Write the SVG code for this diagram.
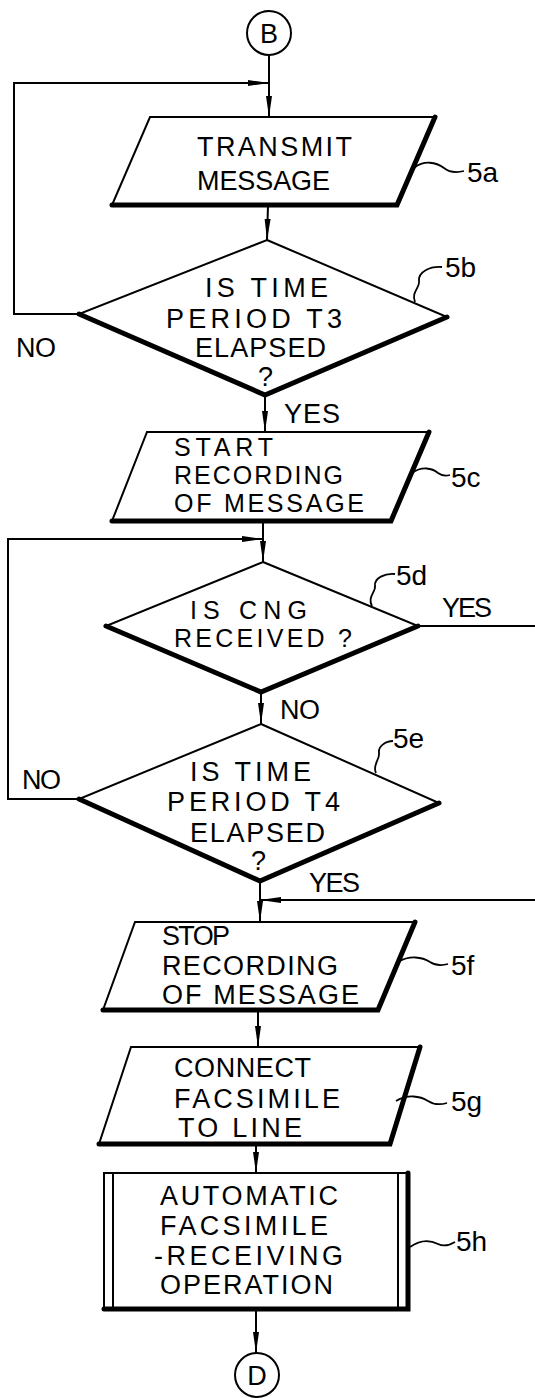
<svg xmlns="http://www.w3.org/2000/svg" width="535" height="1398" viewBox="0 0 535 1398">
<style>
.bg{fill:#fff}
.thick{fill:none;stroke:#000;stroke-width:5;stroke-linecap:round}
.shape{fill:#fff;stroke:#000;stroke-width:2}
.con{fill:none;stroke:#000;stroke-width:2}
.lead{fill:none;stroke:#000;stroke-width:1.8}
.t{font-family:"Liberation Sans",Arial,sans-serif;font-size:27px;fill:#000}
.s{font-size:25px}
.lbl{font-family:"Liberation Sans",Arial,sans-serif;font-size:28px;fill:#000}
</style>
<defs>
<marker id="ah" markerUnits="userSpaceOnUse" markerWidth="22" markerHeight="8" refX="21" refY="4" orient="auto">
<path d="M0,1 L21,4 L0,7 z" fill="#000"/>
</marker>
</defs>
<rect class="bg" x="0" y="0" width="535" height="1398"/>

<g id="connectors">
<path class="con" d="M269,55 L269,117" marker-end="url(#ah)"/>
<path class="con" d="M79,314 L14,314 L14,83 L269,83" marker-end="url(#ah)"/>
<path class="con" d="M268,205 L267,240" marker-end="url(#ah)"/>
<path class="con" d="M265,395 L265,432" marker-end="url(#ah)"/>
<path class="con" d="M263,521 L263,562" marker-end="url(#ah)"/>
<path class="con" d="M79,799 L8,799 L8,539 L263,539" marker-end="url(#ah)"/>
<path class="con" d="M418,626 L535,626"/>
<path class="con" d="M261,692 L261,724" marker-end="url(#ah)"/>
<path class="con" d="M260,881 L260,922" marker-end="url(#ah)"/>
<path class="con" d="M535,900 L260,900" marker-end="url(#ah)"/>
<path class="con" d="M258,1010 L258,1047" marker-end="url(#ah)"/>
<path class="con" d="M256,1144 L256,1173" marker-end="url(#ah)"/>
<path class="con" d="M256,1309 L256,1353" marker-end="url(#ah)"/>
<text class="t" x="16" y="357" textLength="40">NO</text>
<text class="t" x="284" y="423" textLength="56">YES</text>
<text class="t" x="442" y="617" textLength="50">YES</text>
<text class="t" x="280" y="719" textLength="40">NO</text>
<text class="t" x="22" y="789" textLength="39">NO</text>
<text class="t" x="309" y="892" textLength="51">YES</text>
</g>

<g id="B">
<circle class="shape" cx="269" cy="33" r="22"/>
<text class="t" x="269" y="43" text-anchor="middle">B</text>
</g>

<g id="n5a">
<polygon class="shape" points="150,117 435,117 397,205 112,205"/>
<path class="thick" d="M112,205 L397,205 L435,117"/>
<text class="t" x="197" y="156" textLength="155">TRANSMIT</text>
<text class="t" x="197" y="190" textLength="133">MESSAGE</text>
<path class="lead" d="M414,168 C424,160 436,162 444,168 C450,173 456,173 464,171"/>
<text class="lbl" x="467" y="182">5a</text>
</g>

<g id="n5b">
<polygon class="shape" points="267,240 447,317 265,395 79,314"/>
<path class="thick" d="M79,314 L265,395 L447,317"/>
<text class="t" x="205" y="297" textLength="123">IS  TIME</text>
<text class="t" x="166" y="328" textLength="176">PERIOD  T3</text>
<text class="t" x="195" y="357" textLength="131">ELAPSED</text>
<text class="t" x="258" y="386">?</text>
<path class="lead" d="M415,302 C411,292 420,288 419,281 C418,272 430,266 442,267"/>
<text class="lbl" x="445" y="277">5b</text>
</g>

<g id="n5c">
<polygon class="shape" points="147,432 429,432 391,521 112,521"/>
<path class="thick" d="M112,521 L391,521 L429,432"/>
<text class="t s" x="174" y="456" textLength="99">START</text>
<text class="t s" x="174" y="484" textLength="169">RECORDING</text>
<text class="t s" x="174" y="512" textLength="190">OF MESSAGE</text>
<path class="lead" d="M412,473 C422,466 432,468 438,473 C442,476 446,476 450,475"/>
<text class="lbl" x="451" y="487">5c</text>
</g>

<g id="n5d">
<polygon class="shape" points="263,562 418,626 261,692 106,626"/>
<path class="thick" d="M106,626 L261,692 L418,626"/>
<text class="t s" x="190" y="619" textLength="117">IS  CNG</text>
<text class="t s" x="174" y="647" textLength="178">RECEIVED ?</text>
<path class="lead" d="M372,606 C367,597 376,592 375,586 C374,578 385,573 395,574"/>
<text class="lbl" x="396" y="585">5d</text>
</g>

<g id="n5e">
<polygon class="shape" points="261,724 439,803 260,881 79,799"/>
<path class="thick" d="M79,799 L260,881 L439,803"/>
<text class="t" x="190" y="781" textLength="121">IS  TIME</text>
<text class="t" x="167" y="811" textLength="173">PERIOD  T4</text>
<text class="t" x="190" y="842" textLength="135">ELAPSED</text>
<text class="t" x="251" y="870">?</text>
<path class="lead" d="M376,773 C372,765 380,760 379,753 C378,746 386,741 393,741"/>
<text class="lbl" x="393" y="748">5e</text>
</g>

<g id="n5f">
<polygon class="shape" points="135,922 415,922 378,1010 103,1010"/>
<path class="thick" d="M103,1010 L378,1010 L415,922"/>
<text class="t" x="162" y="945" textLength="68">STOP</text>
<text class="t" x="162" y="975" textLength="176">RECORDING</text>
<text class="t" x="162" y="1004" textLength="197">OF MESSAGE</text>
<path class="lead" d="M398,962 C410,955 422,957 430,962 C436,966 441,966 448,964"/>
<text class="lbl" x="451" y="975">5f</text>
</g>

<g id="n5g">
<polygon class="shape" points="131,1047 420,1047 390,1144 99,1144"/>
<path class="thick" d="M99,1144 L390,1144 L420,1047"/>
<text class="t" x="174" y="1077" textLength="137">CONNECT</text>
<text class="t" x="174" y="1108" textLength="166">FACSIMILE</text>
<text class="t" x="178" y="1137" textLength="124">TO  LINE</text>
<path class="lead" d="M396,1101 C408,1094 420,1096 428,1101 C434,1105 440,1105 447,1103"/>
<text class="lbl" x="451" y="1111">5g</text>
</g>

<g id="n5h">
<rect class="shape" x="104" y="1173" width="304" height="136"/>
<path class="thick" d="M104,1309 L408,1309 L408,1173"/>
<path class="con" d="M113,1173 L113,1309 M398,1173 L398,1309"/>
<text class="t" x="160" y="1205" textLength="178">AUTOMATIC</text>
<text class="t" x="160" y="1235" textLength="168">FACSIMILE</text>
<text class="t" x="154" y="1265" textLength="189">-RECEIVING</text>
<text class="t" x="160" y="1294" textLength="173">OPERATION</text>
<path class="lead" d="M410,1247 C420,1240 430,1240 438,1244 C444,1247 450,1245 455,1242"/>
<text class="lbl" x="456" y="1251">5h</text>
</g>

<g id="D">
<circle class="shape" cx="257" cy="1375" r="22"/>
<text class="t" x="257" y="1385" text-anchor="middle">D</text>
</g>
</svg>
